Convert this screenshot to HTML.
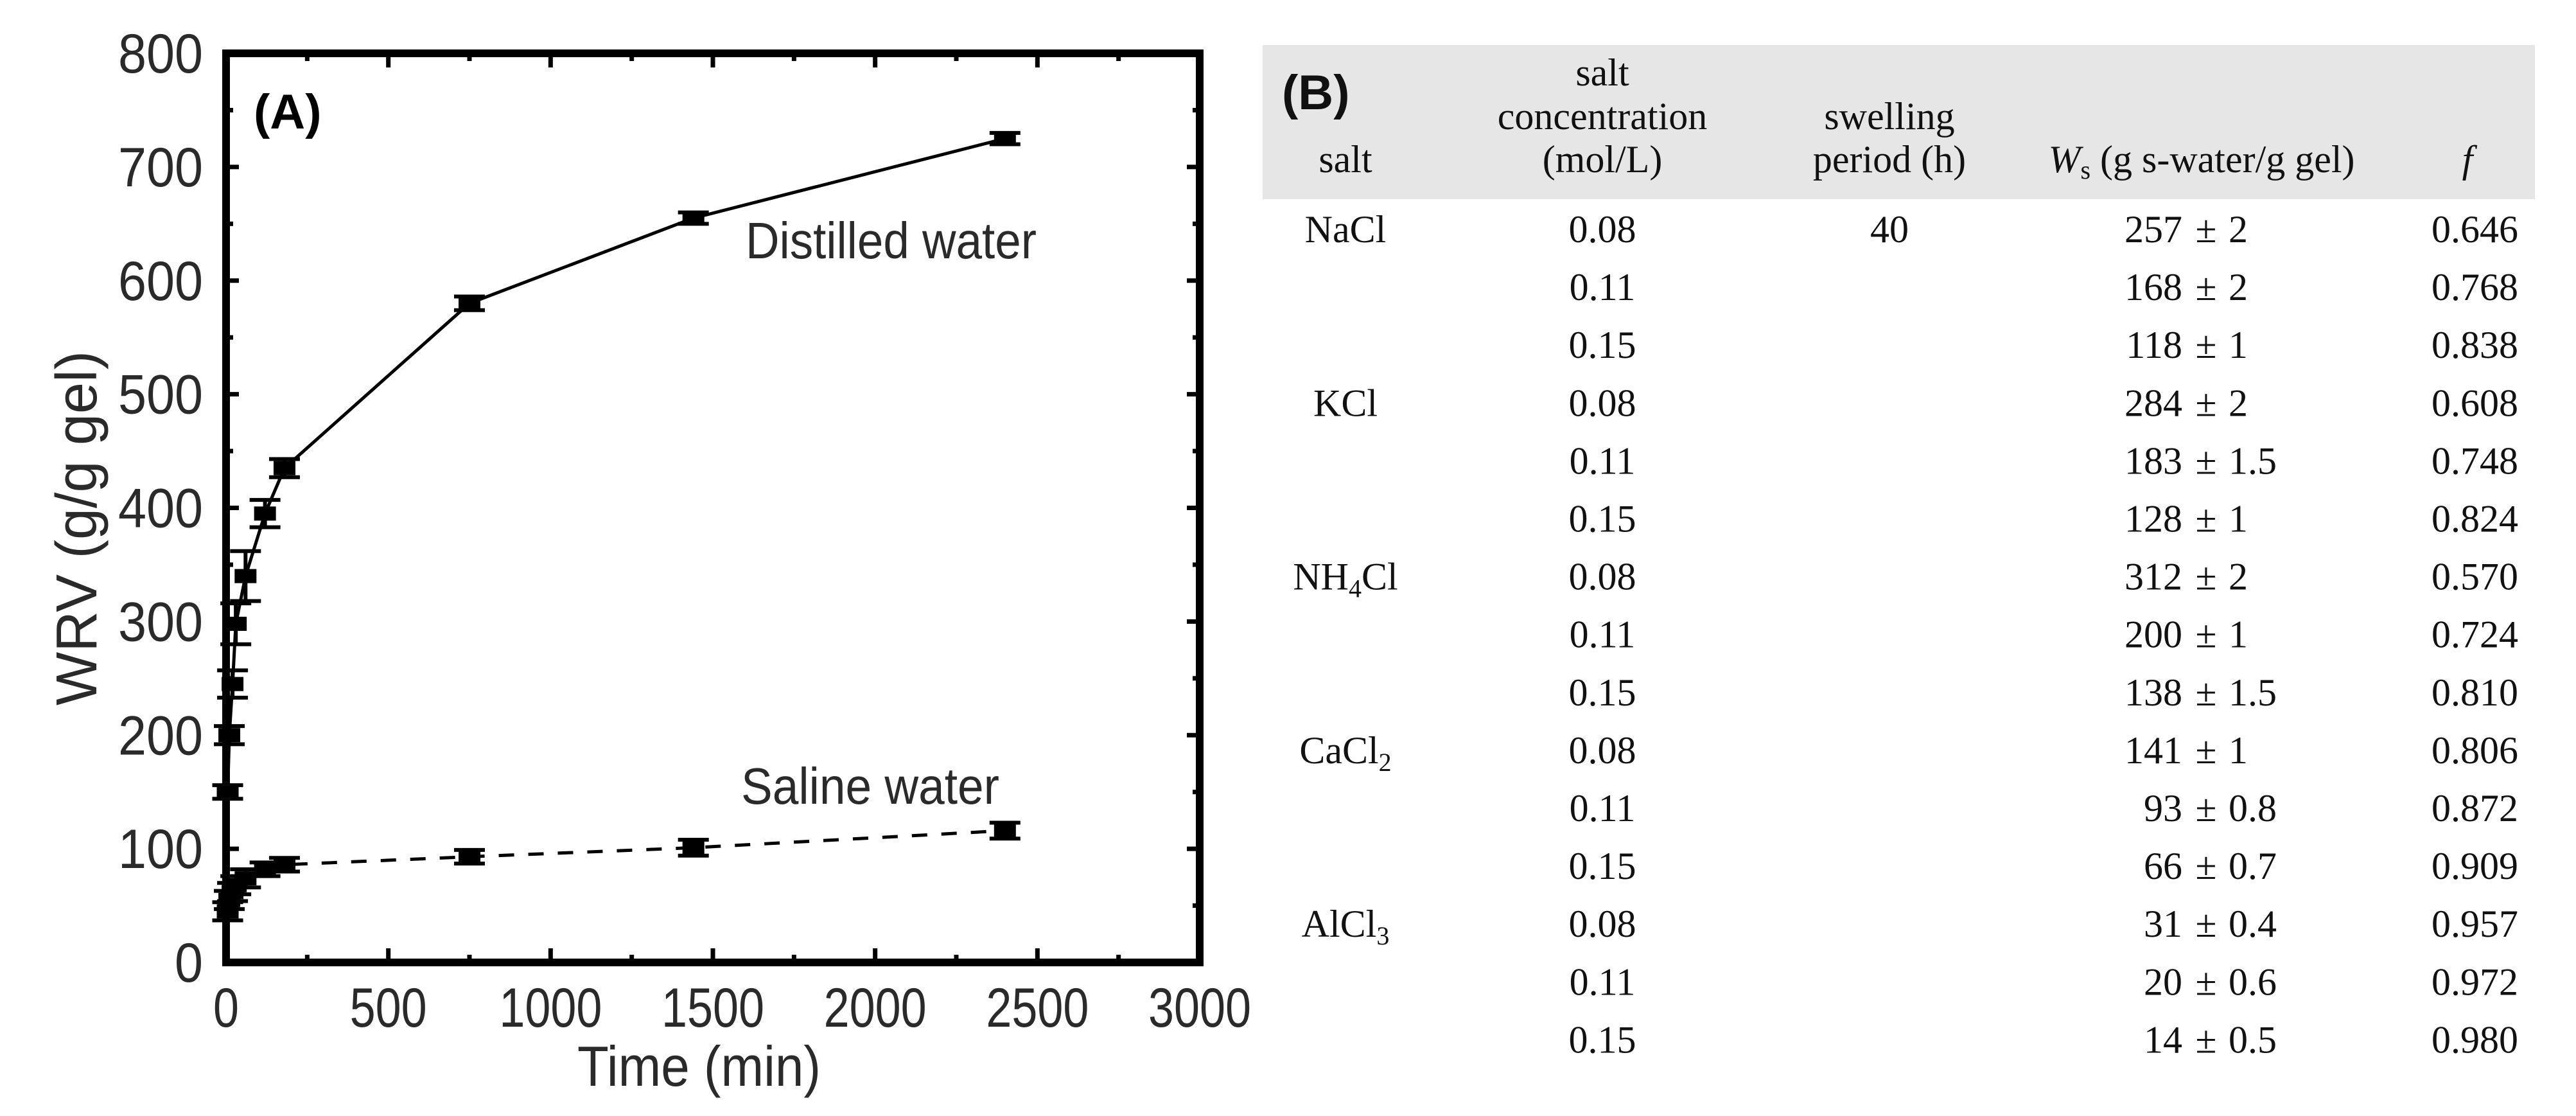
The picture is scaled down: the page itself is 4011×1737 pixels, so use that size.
<!DOCTYPE html>
<html><head><meta charset="utf-8"><style>
html,body{margin:0;padding:0;background:#fff;}
svg{display:block;}
.tk{font-family:"Liberation Sans",sans-serif;font-size:86px;fill:#2a2a2a;}
.tb{font-family:"Liberation Serif",serif;font-size:60px;fill:#111;}
</style></head><body>
<svg id="fig" width="4011" height="1737" viewBox="0 0 4011 1737" xmlns="http://www.w3.org/2000/svg">
<g id="chart"></g>
<g id="table">
  <rect x="1966" y="70" width="1981" height="240" fill="#e6e6e6"/>
  <text x="1996" y="170" font-family="Liberation Sans, sans-serif" font-weight="bold" font-size="76" fill="#111">(B)</text>
  <g class="tb" text-anchor="middle">
    <text x="2095" y="268">salt</text>
    <text x="2495" y="133">salt</text>
    <text x="2495" y="201">concentration</text>
    <text x="2495" y="268">(mol/L)</text>
    <text x="2942" y="201">swelling</text>
    <text x="2942" y="268">period (h)</text>
    <text x="3428" y="268"><tspan font-style="italic">W</tspan><tspan font-size="40" dy="10">s</tspan><tspan dy="-10"> (g s-water/g gel)</tspan></text>
    <text x="3842" y="268" font-style="italic">f</text>
  </g>
  <g id="rows" class="tb"></g>
</g>
</svg>
<script>
// ---- chart data ----
const timeMin = [5, 10, 20, 30, 60, 120, 180, 750, 1440, 2400];
const distilled = [150, 200, 245, 298, 340, 395, 435, 580, 655, 725];
const distilledErr = [6, 8, 12, 18, 22, 12, 8, 6, 5, 5];
const saline = [45, 55, 62, 68, 74, 82, 86, 93, 101, 116];
const salineErr = [8, 8, 8, 8, 8, 6, 6, 6, 7, 7];
const xTicks = [0, 500, 1000, 1500, 2000, 2500, 3000];
const yTicks = [0, 100, 200, 300, 400, 500, 600, 700, 800];

// ---- table data ----
const salts = ["NaCl", "", "", "KCl", "", "", "NH4Cl", "", "", "CaCl2", "", "", "AlCl3", "", ""];
const concs = ["0.08","0.11","0.15","0.08","0.11","0.15","0.08","0.11","0.15","0.08","0.11","0.15","0.08","0.11","0.15"];
const wsVal = ["257","168","118","284","183","128","312","200","138","141","93","66","31","20","14"];
const wsErr = ["2","2","1","2","1.5","1","2","1","1.5","1","0.8","0.7","0.4","0.6","0.5"];
const fVal = ["0.646","0.768","0.838","0.608","0.748","0.824","0.570","0.724","0.810","0.806","0.872","0.909","0.957","0.972","0.980"];

const NS = "http://www.w3.org/2000/svg";
const X0 = 352, X1 = 1868, Y0 = 1498, Y1 = 83;
const sx = v => X0 + (v / 3000) * (X1 - X0);
const sy = v => Y0 - (v / 800) * (Y0 - Y1);
function mk(tag, attrs, parent) {
  const e = document.createElementNS(NS, tag);
  for (const k in attrs) e.setAttribute(k, attrs[k]);
  parent.appendChild(e);
  return e;
}
const chart = document.getElementById("chart");

for (let v = 0; v <= 800; v += 50) {
  const major = v % 100 === 0, L = major ? 20 : 11, y = sy(v);
  const t1 = mk("line", {x1: X0, x2: X0 + L, y1: y, y2: y, stroke: "#000", "stroke-width": 7}, chart);
  
  
  const t2 = mk("line", {x1: X1, x2: X1 - L, y1: y, y2: y, stroke: "#000", "stroke-width": 7}, chart);
  
  
}
for (let v = 0; v <= 3000; v += 250) {
  const major = v % 500 === 0, L = major ? 22 : 12, x = sx(v);
  const t1 = mk("line", {x1: x, x2: x, y1: Y0, y2: Y0 - L, stroke: "#000", "stroke-width": 7}, chart);
  
  
  const t2 = mk("line", {x1: x, x2: x, y1: Y1, y2: Y1 + L, stroke: "#000", "stroke-width": 7}, chart);
  
  
}
const frame = mk("rect", {x: X0, y: Y1, width: X1 - X0, height: Y0 - Y1, fill: "none", stroke: "#000", "stroke-width": 12}, chart);



yTicks.forEach(v => {
  const s = String(v);
  const t = mk("text", {x: 316, y: sy(v) + 30, "text-anchor": "end", class: "tk", textLength: 44 * s.length, lengthAdjust: "spacingAndGlyphs"}, chart);
  
  
  t.textContent = s;
});
xTicks.forEach(v => {
  const s = String(v);
  const t = mk("text", {x: sx(v), y: 1598, "text-anchor": "middle", class: "tk", textLength: 40 * s.length, lengthAdjust: "spacingAndGlyphs"}, chart);
  
  
  t.textContent = s;
});

function series(vals, errs, dash, name) {
  const pts = timeMin.map((t, i) => sx(t) + "," + sy(vals[i])).join(" ");
  const pl = mk("polyline", {points: pts, fill: "none", stroke: "#000", "stroke-width": 5, "stroke-dasharray": dash}, chart);
  
  
  timeMin.forEach((t, i) => {
    const x = sx(t), y = sy(vals[i]), e = errs[i] * (Y0 - Y1) / 800;
    const g = mk("g", {}, chart);
    
    
    mk("line", {x1: x, x2: x, y1: y - e, y2: y + e, stroke: "#000", "stroke-width": 6}, g);
    mk("line", {x1: x - 24, x2: x + 24, y1: y - e, y2: y - e, stroke: "#000", "stroke-width": 6}, g);
    mk("line", {x1: x - 24, x2: x + 24, y1: y + e, y2: y + e, stroke: "#000", "stroke-width": 6}, g);
    mk("rect", {x: x - 17, y: y - 11, width: 34, height: 22, fill: "#000"}, g);
  });
}
series(distilled, distilledErr, "none", "distilled");
series(saline, salineErr, "24 22", "saline");

const lbls = [
  ["(A)", 395, 200, "panel-a-label", "bold", 76, 0],
  ["Distilled water", 1161, 402, "distilled-water-label", "normal", 80, 453],
  ["Saline water", 1154, 1251, "saline-water-label", "normal", 80, 402],
  ["Time (min)", 899, 1690, "x-axis-title", "normal", 88, 379]
];
lbls.forEach(l => {
  const a = {x: l[1], y: l[2], "font-family": "Liberation Sans, sans-serif", "font-weight": l[4], "font-size": l[5], fill: l[4] === "bold" ? "#000" : "#2a2a2a"};
  if (l[6]) { a.textLength = l[6]; a.lengthAdjust = "spacingAndGlyphs"; }
  const t = mk("text", a, chart);
  
  
  t.textContent = l[0];
});
const yt = mk("text", {x: 0, y: 0, transform: "translate(150,822) rotate(-90)", "text-anchor": "middle", "font-family": "Liberation Sans, sans-serif", "font-size": 90, fill: "#2a2a2a", textLength: 552, lengthAdjust: "spacingAndGlyphs"}, chart);


yt.textContent = "WRV (g/g gel)";

const rows = document.getElementById("rows");
function salt(parent, s) {
  const m = s.match(/^(.*?)(\d)(.*)$/);
  if (!m) { parent.textContent = s; return; }
  const a = document.createElementNS(NS, "tspan"); a.textContent = m[1]; parent.appendChild(a);
  const b = document.createElementNS(NS, "tspan"); b.setAttribute("font-size", "40"); b.setAttribute("dy", "12"); b.textContent = m[2]; parent.appendChild(b);
  const c = document.createElementNS(NS, "tspan"); c.setAttribute("dy", "-12"); c.textContent = m[3]; parent.appendChild(c);
}
concs.forEach((c, i) => {
  const y = 377 + 90.1 * i;
  if (salts[i]) {
    const t = mk("text", {x: 2095, y: y, "text-anchor": "middle"}, rows);
    
    
    salt(t, salts[i]);
  }
  const tc = mk("text", {x: 2495, y: y, "text-anchor": "middle"}, rows);
  
  
  tc.textContent = c;
  if (i === 0) {
    const tp = mk("text", {x: 2942, y: y, "text-anchor": "middle"}, rows);
    
    
    tp.textContent = "40";
  }
  const w1 = mk("text", {x: 3398, y: y, "text-anchor": "end"}, rows);
  
  
  w1.textContent = wsVal[i];
  const w2 = mk("text", {x: 3435, y: y, "text-anchor": "middle"}, rows);
  
  
  w2.textContent = "±";
  const w3 = mk("text", {x: 3470, y: y, "text-anchor": "start"}, rows);
  
  
  w3.textContent = wsErr[i];
  const tf = mk("text", {x: 3921, y: y, "text-anchor": "end"}, rows);
  
  
  tf.textContent = fVal[i];
});
</script>
</body></html>
